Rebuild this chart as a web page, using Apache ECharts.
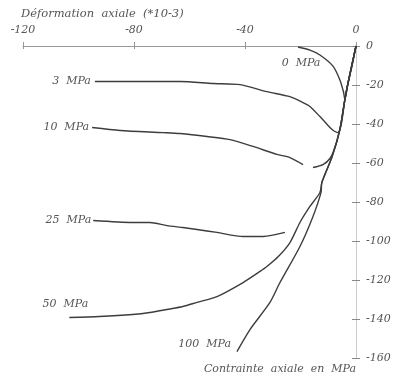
<!DOCTYPE html>
<html>
<head>
<meta charset="utf-8">
<script src="https://cdn.jsdelivr.net/npm/echarts@6/dist/echarts.min.js"></script>
<style>
  html, body { margin: 0; padding: 0; background: #fff; }
  #main { width: 410px; height: 378px; }
</style>
</head>
<body>
<div id="main"></div>
<script>
// curves: [axial strain (*10-3), axial stress (MPa)], from the origin outwards
var curve0 = [[0, 0], [-1.4, -10], [-2.9, -19.2], [-3.6, -25], [-4.0, -27.4], [-4.5, -23.6],
  [-5.8, -17.4], [-8.3, -10.3], [-13.0, -4.6], [-16.6, -2.1], [-20.9, -0.5]];
var curve3 = [[0, 0], [-2.9, -19.2], [-4.0, -27.4], [-5.3, -40], [-6.5, -44.4], [-7.9, -43.6],
  [-9.4, -41.8], [-13.0, -36.2], [-16.6, -31.0], [-19.1, -29.0], [-23.8, -26.0], [-32.1, -23.4],
  [-41.8, -19.8], [-51.5, -19.2], [-63.4, -18.2], [-76.8, -18.2], [-94.1, -18.2]];
var curve10 = [[0, 0], [-2.9, -19.2], [-4.0, -27.4], [-5.8, -42.8], [-7.6, -52], [-9.4, -57.7],
  [-11.9, -60.8], [-15.5, -62.3], null, [-19.1, -60.8], [-23.8, -57.2], [-28.5, -55.6],
  [-37.1, -51.5], [-45.4, -48.0], [-53.7, -46.4], [-63.4, -44.9], [-69.5, -44.4],
  [-85.0, -43.3], [-95.1, -41.8]];
var curve25 = [[-25.6, -95.6], [-33.4, -97.7], [-40.7, -97.7], [-50.1, -95.6], [-57.3, -94.1],
  [-62.4, -93.1], [-68.1, -92.1], [-74.3, -90.5], [-80.5, -90.5], [-94.7, -89.5]];
var curve50 = [[0, 0], [-2.9, -19.2], [-4.0, -27.4], [-5.8, -42.8], [-8.6, -56.7], [-12.3, -70],
  [-13.0, -75.1], [-16.6, -82.3], [-20.2, -90.5], [-23.8, -100.8], [-28.0, -108],
  [-32.1, -113.1], [-34.6, -115.6], [-40.7, -121.3], [-50.1, -128.5], [-57.3, -131.5],
  [-62.4, -133.6], [-68.1, -135.1], [-74.3, -136.7], [-80.5, -137.7], [-92.5, -138.7],
  [-103.3, -139.2]];
var curve100 = [[0, 0], [-2.9, -19.2], [-4.0, -27.4], [-5.8, -42.8], [-8.6, -56.7], [-12.3, -70],
  [-12.6, -75.1], [-15.5, -87.4], [-20.2, -102.8], [-27.4, -121.3], [-31.0, -131.5],
  [-38.2, -145.4], [-42.9, -156.7]];

var curveNames = ['0  MPa', '3  MPa', '10  MPa', '25  MPa', '50  MPa', '100  MPa'];

var xTicks = { min: -120, max: 0, step: 40 };
var yTicks = { min: -160, max: 0, step: 20 };

var font = { fontFamily: 'DejaVu Serif', fontStyle: 'italic', fontSize: 11, color: '#555' };

// the name label sits on the last point of each curve
function curve(name, pts, lab) {
  var data = pts.map(function (p) { return p === null ? '-' : p; });
  var n = data.length - 1;
  data[n] = {
    value: data[n],
    label: Object.assign({ show: true, formatter: name }, font, lab)
  };
  return {
    type: 'line',
    name: name,
    data: data,
    smooth: 0.25,
    symbol: 'circle',
    symbolSize: 0,
    showSymbol: true,
    connectNulls: false,
    lineStyle: { color: '#3d3d3d', width: 1.4 },
    itemStyle: { color: '#3d3d3d' },
    emphasis: { disabled: true },
    silent: true
  };
}

var chart = echarts.init(document.getElementById('main'));
chart.setOption({
  animation: false,
  backgroundColor: '#fff',
  title: {
    text: 'Déformation  axiale  (*10-3)',
    left: 21, top: 8, padding: 0,
    textStyle: Object.assign({}, font, { fontWeight: 'normal', fontSize: 11.5 })
  },
  grid: { left: 23, right: 54, top: 46, bottom: 20, outerBoundsMode: 'none' },
  xAxis: [{
    type: 'value', position: 'top',
    min: xTicks.min, max: xTicks.max, interval: xTicks.step,
    axisLine: { lineStyle: { color: '#999', width: 1 } },
    axisTick: { length: 4, lineStyle: { color: '#999' } },
    axisLabel: Object.assign({ margin: 10 }, font),
    splitLine: { show: false }
  }, {
    type: 'value', position: 'top',
    min: xTicks.min, max: xTicks.max, interval: xTicks.step,
    axisLine: { show: false },
    axisTick: { inside: true, length: 3, lineStyle: { color: '#999' } },
    axisLabel: { show: false },
    splitLine: { show: false }
  }],
  yAxis: [{
    type: 'value', position: 'right',
    min: yTicks.min, max: yTicks.max, interval: yTicks.step,
    axisLine: { lineStyle: { color: '#ccc', width: 1 } },
    axisTick: { length: 4, lineStyle: { color: '#888' } },
    axisLabel: Object.assign({ margin: 10 }, font),
    splitLine: { show: false },
    name: 'Contrainte  axiale  en  MPa',
    nameLocation: 'start',
    nameGap: 6,
    nameTextStyle: Object.assign({ align: 'right', verticalAlign: 'top' }, font)
  }, {
    type: 'value', position: 'right',
    min: yTicks.min, max: yTicks.max, interval: yTicks.step,
    axisLine: { show: false },
    axisTick: { inside: true, length: 4, lineStyle: { color: '#888' } },
    axisLabel: { show: false },
    splitLine: { show: false }
  }],
  series: [
    curve(curveNames[0], curve0, { position: 'bottom', distance: 11, offset: [3, 0] }),
    curve(curveNames[1], curve3, { position: 'left', distance: 4 }),
    curve(curveNames[2], curve10, { position: 'left', distance: 3 }),
    curve(curveNames[3], curve25, { position: 'left', distance: 2 }),
    curve(curveNames[4], curve50, { position: 'top', distance: 8, offset: [-4, 0] }),
    curve(curveNames[5], curve100, { position: 'left', distance: 6, offset: [0, -7] })
  ]
});
</script>
</body>
</html>
